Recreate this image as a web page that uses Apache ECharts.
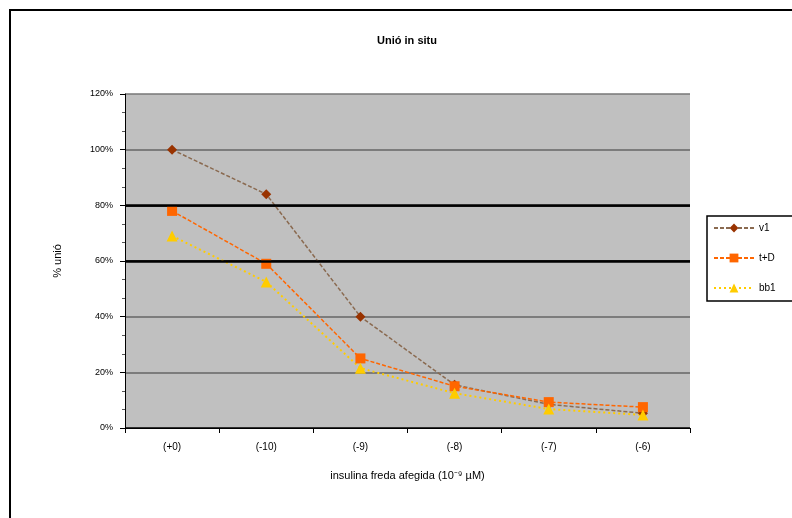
<!DOCTYPE html>
<html><head><meta charset="utf-8">
<script src="https://cdn.jsdelivr.net/npm/echarts@6/dist/echarts.min.js"></script>
<style>html,body{margin:0;padding:0;background:#fff}#c{width:792px;height:518px}</style>
</head><body><div id="c"></div>
<script>
const categories = ['(+0)', '(-10)', '(-9)', '(-8)', '(-7)', '(-6)'];
const seriesNames = ['v1', 't+D', 'bb1'];
const v1 = [100, 84, 40, 15.5, 8.5, 5.3];
const tD = [78, 59, 25, 15, 9.3, 7.5];
const bb1 = [69, 52.5, 21.5, 12.5, 6.8, 4.7];
const yTicks = [0, 20, 40, 60, 80, 100, 120];

const chart = echarts.init(document.getElementById('c'), null, {renderer: 'canvas'});
const font = 'Liberation Sans, Arial, sans-serif';
chart.setOption({
  backgroundColor: '#fff',
  animation: false,
  title: {text: 'Unió in situ', left: 402, top: 30, textAlign: 'center',
    textStyle: {fontFamily: font, fontSize: 11, fontWeight: 'bold', color: '#000'}},
  graphic: [{type: 'rect', shape: {x: 10, y: 10, width: 800, height: 530},
    style: {fill: 'none', stroke: '#000', lineWidth: 2}, z: -1}],
  grid: {left: 125, right: 102, top: 94, bottom: 90, show: true, backgroundColor: '#c0c0c0', borderWidth: 0},
  legend: {orient: 'vertical', left: 707, top: 216, itemGap: 20, itemWidth: 40, itemHeight: 11,
    backgroundColor: '#fff', borderColor: '#000', borderWidth: 1.5, padding: [7, 20, 8, 6],
    textStyle: {fontFamily: font, fontSize: 10, color: '#000'},
    data: seriesNames},
  xAxis: {type: 'category', data: categories, boundaryGap: true,
    name: 'insulina freda afegida (10⁻⁹ µM)', nameLocation: 'middle', nameGap: 42,
    nameTextStyle: {fontFamily: font, fontSize: 11, color: '#000'},
    axisLine: {lineStyle: {color: '#000', width: 1}},
    axisTick: {show: true, length: 5, lineStyle: {color: '#000'}},
    axisLabel: {fontFamily: font, fontSize: 10, color: '#000', margin: 14}},
  yAxis: {type: 'value', min: 0, max: 120, interval: 20,
    name: '% unió', nameLocation: 'middle', nameGap: 62, nameRotate: 90,
    nameTextStyle: {fontFamily: font, fontSize: 11, color: '#000'},
    axisLine: {show: true, lineStyle: {color: '#000', width: 1}},
    axisTick: {show: true, length: 5, lineStyle: {color: '#000'}},
    minorTick: {show: true, splitNumber: 3, length: 3, lineStyle: {color: '#555'}},
    axisLabel: {fontFamily: font, fontSize: 9, color: '#000', margin: 12, formatter: v => v + '%'},
    splitLine: {show: true, lineStyle: {color: ['#000', '#666', '#666', '#000', '#000', '#666', '#777'], width: 1.5}}},
  series: [
    {name: 'v1', type: 'line', data: v1, symbol: 'diamond', symbolSize: 10,
      itemStyle: {color: '#993300'}, lineStyle: {color: '#8a6a50', width: 1.5, type: [4, 2]},
      markLine: {silent: true, symbol: 'none', label: {show: false},
        lineStyle: {color: '#000', width: 2.5, type: 'solid'},
        data: [{yAxis: 60}, {yAxis: 80}]}},
    {name: 't+D', type: 'line', data: tD, symbol: 'rect', symbolSize: 10,
      itemStyle: {color: '#ff6600'}, lineStyle: {color: '#ff6600', width: 1.5, type: [4, 2]}},
    {name: 'bb1', type: 'line', data: bb1, symbol: 'triangle', symbolSize: 11,
      itemStyle: {color: '#ffcc00'}, lineStyle: {color: '#ffcc00', width: 2, type: [2, 3]}}
  ]
});
</script></body></html>
